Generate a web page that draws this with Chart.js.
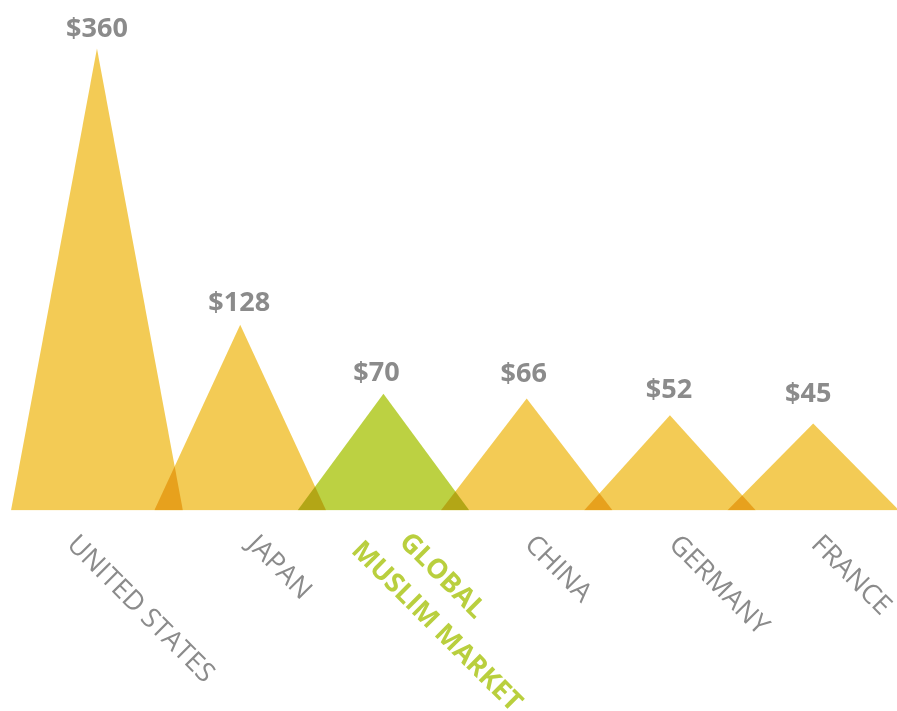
<!DOCTYPE html>
<html>
<head>
<meta charset="utf-8">
<script src="https://cdn.jsdelivr.net/npm/chart.js@4/dist/chart.umd.min.js"></script>
<style>
  html, body { margin: 0; padding: 0; background: #ffffff; }
  #wrap { width: 897px; height: 711px; position: relative; }
</style>
</head>
<body>
<div id="wrap"><canvas id="chart"></canvas></div>
<script>
// Market size by country (billions of US$)
const categories = ['UNITED STATES', 'JAPAN', 'GLOBAL\nMUSLIM MARKET', 'CHINA', 'GERMANY', 'FRANCE'];
const values = [360, 128, 70, 66, 52, 45];
const valueLabels = ['$360', '$128', '$70', '$66', '$52', '$45'];
const highlighted = [false, false, true, false, false, false];

// Scale settings: the triangles rise from the bottom of the value axis
const AXIS_MIN = -28;
const AXIS_MAX = 400;
const HALF_BASE = 0.6;

// Styling
const YELLOW = '#F3CB55';
const GREEN = '#BCD142';
const GREY = '#8B8B8B';
const GREEN_TEXT = '#B9CF3E';
const valueLift = [12, 14, 13, 17, 17, 22];
const valueNudge = [0, -1, -7, -3, -1, -5];
const nameShift = [-17, 20, 29, 11, 12, 11];

const datasets = values.map((v, i) => ({
  label: categories[i],
  data: [
    { x: i - HALF_BASE, y: AXIS_MIN },
    { x: i, y: v },
    { x: i + HALF_BASE, y: AXIS_MIN }
  ],
  backgroundColor: highlighted[i] ? GREEN : YELLOW,
  borderWidth: 0,
  pointRadius: 0,
  tension: 0,
  fill: 'start'
}));

// Overlapping triangle bases darken where they cross
const multiplyBlend = {
  id: 'multiplyBlend',
  beforeDatasetsDraw(chart) {
    chart.ctx.save();
    chart.ctx.globalCompositeOperation = 'multiply';
  },
  afterDatasetsDraw(chart) {
    chart.ctx.restore();
  }
};

const textLabels = {
  id: 'textLabels',
  afterDraw(chart) {
    const ctx = chart.ctx;
    const xs = chart.scales.x;
    const ys = chart.scales.y;
    const baseY = Math.round(ys.getPixelForValue(AXIS_MIN));
    ctx.save();
    // value labels above the peaks
    ctx.font = 'bold 27px "Open Sans"';
    ctx.fillStyle = GREY;
    ctx.textAlign = 'center';
    ctx.textBaseline = 'alphabetic';
    values.forEach((v, i) => {
      const px = xs.getPixelForValue(i);
      const py = ys.getPixelForValue(v);
      ctx.fillText(valueLabels[i], px + valueNudge[i], py - valueLift[i]);
    });
    // category names, slanted down to the right
    ctx.textAlign = 'left';
    categories.forEach((name, i) => {
      const px = xs.getPixelForValue(i);
      const lines = name.split('\n');
      ctx.save();
      if (highlighted[i]) {
        ctx.font = 'bold 27px "Open Sans"';
        ctx.fillStyle = GREEN_TEXT;
        ctx.translate(px + nameShift[i], baseY + 18);
      } else {
        ctx.font = '27px "Open Sans"';
        ctx.fillStyle = GREY;
        ctx.translate(px + nameShift[i], baseY + 20.5);
      }
      ctx.rotate(Math.PI / 4);
      lines.forEach((line, k) => {
        const indent = k === 0 ? 0 : -28;
        ctx.fillText(line, indent, 20 + k * 40);
      });
      ctx.restore();
    });
    ctx.restore();
  }
};

new Chart(document.getElementById('chart'), {
  type: 'line',
  data: { datasets },
  options: {
    responsive: true,
    maintainAspectRatio: false,
    animation: false,
    layout: { padding: { left: 11, right: 0, top: 1, bottom: 200.5 } },
    plugins: { legend: { display: false }, tooltip: { enabled: false } },
    scales: {
      x: { type: 'linear', min: -HALF_BASE, max: 5.585, display: false },
      y: { type: 'linear', min: AXIS_MIN, max: AXIS_MAX, display: false }
    }
  },
  plugins: [multiplyBlend, textLabels]
});
</script>
</body>
</html>
